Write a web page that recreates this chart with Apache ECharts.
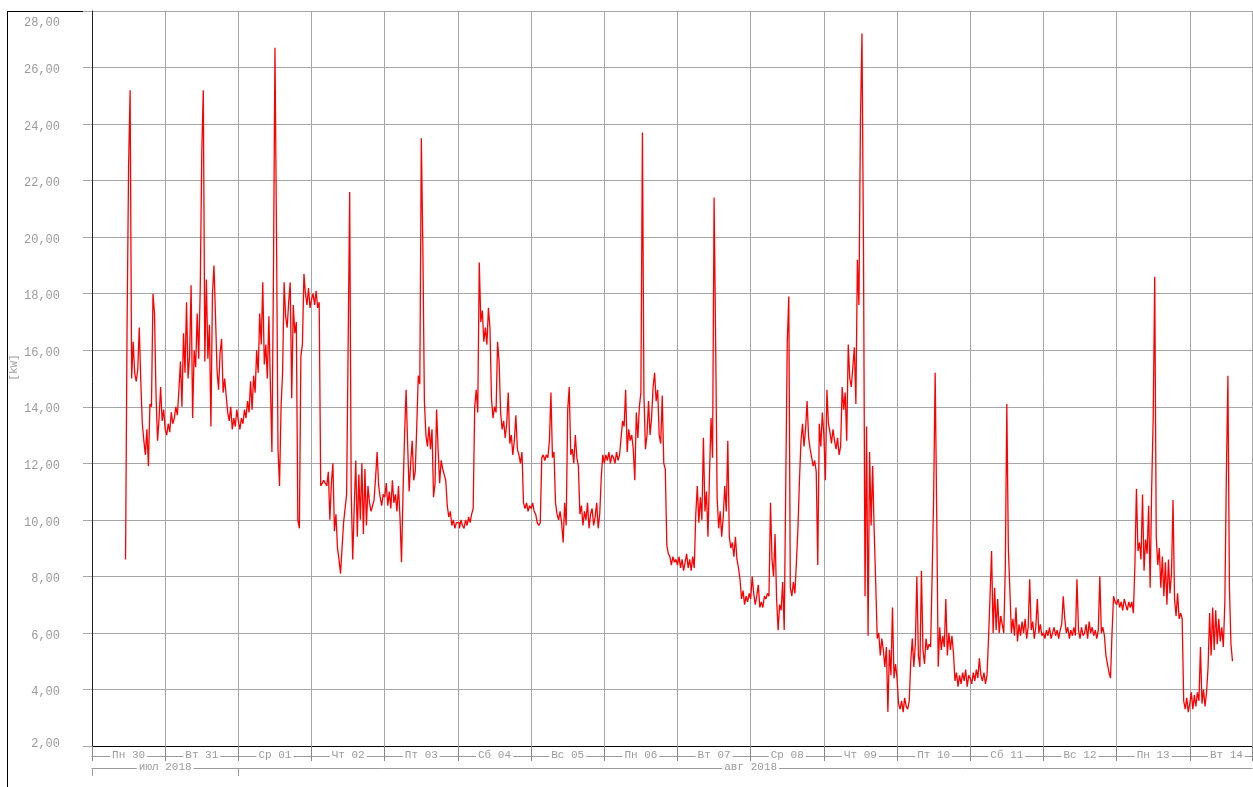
<!DOCTYPE html>
<html>
<head>
<meta charset="utf-8">
<title>Мощность, кВт</title>
<script src="https://cdn.jsdelivr.net/npm/echarts@6/dist/echarts.min.js"></script>
<style>
  html, body { margin: 0; padding: 0; background: #fff; }
  #chart { width: 1253px; height: 787px; }
</style>
</head>
<body>
<div id="chart"></div>
<script>
// half-hour readings, kW; first day starts at 11:00, the rest at 00:00
const jul30 = [8.6, 16.8, 22.5, 25.2, 15.0, 16.3, 15.2, 14.9, 15.3, 16.8, 14.9, 13.4, 12.8, 12.3, 13.2, 11.9,
  14.1, 14.0, 18.0, 17.3, 14.4, 12.8, 13.6, 14.7, 13.5, 13.9];
const jul31 = [13.2, 13.0, 13.4, 13.1, 13.8, 13.4, 13.6, 14.0, 13.7, 14.6, 15.6, 14.0, 16.6, 15.2, 17.7, 15.0,
  15.8, 18.3, 13.6, 16.0, 15.4, 17.3, 15.7, 18.2, 23.0, 25.2, 15.6, 18.5, 15.7, 16.9, 13.3, 18.0,
  19.0, 17.2, 15.3, 14.6, 15.9, 16.4, 14.5, 15.0, 14.4, 13.8, 13.5, 14.0, 13.2, 13.6, 13.3, 13.9];
const aug01 = [13.5, 13.2, 13.6, 13.4, 13.9, 13.6, 14.2, 13.8, 14.9, 13.9, 15.1, 14.5, 16.0, 15.2, 17.3, 16.2,
  18.4, 15.5, 16.2, 15.0, 17.2, 14.8, 12.4, 18.6, 26.7, 20.1, 12.5, 11.2, 14.0, 15.2, 18.4, 17.2,
  16.8, 17.7, 18.4, 14.3, 17.6, 16.6, 17.0, 10.0, 9.7, 15.8, 16.2, 18.7, 18.0, 17.6, 18.2, 17.5];
const aug02 = [17.8, 18.0, 17.6, 18.1, 17.5, 17.7, 11.2, 11.3, 11.4, 11.3, 11.2, 11.7, 10.0, 11.3, 12.0, 9.6,
  10.2, 9.0, 8.6, 8.1, 9.0, 9.9, 10.4, 10.9, 16.2, 21.6, 11.0, 8.6, 10.5, 12.1, 9.4, 11.6,
  10.0, 12.0, 9.5, 11.8, 9.8, 11.2, 10.6, 10.3, 10.5, 10.7, 11.5, 12.4, 11.2, 10.8, 10.5, 10.9];
const aug03 = [10.8, 11.3, 10.5, 11.0, 10.4, 11.4, 10.6, 10.9, 10.3, 11.2, 10.1, 8.5, 11.0, 13.0, 14.6, 12.7,
  11.0, 12.0, 12.8, 11.4, 11.7, 13.3, 15.1, 14.8, 23.5, 19.6, 14.2, 13.0, 12.6, 13.3, 12.5, 13.2,
  10.8, 11.3, 13.9, 12.5, 11.3, 12.1, 11.8, 11.6, 11.4, 10.5, 10.1, 10.3, 9.8, 10.0, 9.7, 9.9];
const aug04 = [9.9, 9.7, 10.0, 9.8, 9.7, 10.0, 9.8, 10.1, 9.9, 10.2, 10.4, 14.0, 14.6, 13.8, 19.1, 17.0,
  17.4, 16.3, 16.8, 16.2, 17.5, 16.8, 14.3, 13.6, 14.0, 13.8, 16.3, 15.6, 13.8, 13.2, 13.5, 12.9,
  13.4, 14.5, 12.7, 13.0, 12.3, 12.8, 13.7, 12.5, 12.3, 12.0, 12.4, 10.6, 10.4, 10.6, 10.3, 10.5];
const aug05 = [10.4, 10.6, 10.3, 10.2, 9.9, 9.8, 9.9, 12.2, 12.3, 12.1, 12.3, 12.2, 12.8, 14.5, 12.2, 12.4,
  10.6, 10.2, 10.0, 10.3, 9.9, 9.2, 10.6, 9.8, 13.9, 14.7, 12.3, 12.5, 12.0, 13.0, 12.2, 11.9,
  10.2, 10.5, 9.8, 10.3, 10.0, 10.6, 9.7, 10.2, 10.4, 9.8, 10.1, 10.6, 9.7, 10.2, 11.5, 12.3];
const aug06 = [12.0, 12.3, 12.1, 12.4, 12.0, 12.3, 12.2, 12.0, 12.4, 12.1, 12.3, 12.9, 13.5, 13.3, 14.6, 12.4,
  13.2, 12.8, 13.0, 12.5, 11.4, 13.8, 12.9, 14.0, 14.5, 23.7, 14.4, 12.5, 13.0, 14.2, 13.0, 13.6,
  14.7, 15.2, 14.2, 14.6, 13.0, 12.7, 14.4, 12.0, 11.8, 9.1, 8.8, 8.7, 8.4, 8.7, 8.5, 8.6];
const aug07 = [8.4, 8.7, 8.3, 8.6, 8.2, 8.5, 8.8, 8.3, 8.6, 8.2, 8.7, 8.3, 10.2, 11.2, 9.9, 10.8,
  10.0, 12.9, 10.3, 11.0, 9.4, 11.6, 13.6, 12.2, 21.4, 16.4, 10.8, 9.7, 10.3, 9.4, 10.1, 11.2,
  10.3, 12.8, 9.4, 9.0, 9.2, 8.7, 9.4, 8.6, 8.3, 7.9, 7.2, 7.5, 7.0, 7.3, 7.1, 7.4];
const aug08 = [7.2, 8.0, 7.4, 7.0, 7.3, 7.7, 6.9, 7.1, 6.9, 7.3, 7.2, 7.4, 7.3, 10.6, 8.6, 8.0,
  9.5, 7.2, 6.1, 7.0, 6.8, 7.8, 6.1, 11.2, 16.3, 17.9, 7.6, 7.3, 7.8, 7.4, 8.5, 9.7,
  11.4, 12.8, 13.4, 12.6, 13.2, 14.2, 12.9, 12.5, 12.2, 11.9, 12.1, 11.7, 8.4, 13.4, 12.6, 13.8];
const aug09 = [13.0, 11.4, 14.6, 13.4, 13.1, 12.7, 13.2, 12.8, 12.5, 12.9, 12.3, 12.6, 14.7, 13.9, 14.5, 12.8,
  16.2, 15.0, 14.7, 15.4, 16.1, 14.1, 19.2, 17.6, 24.1, 27.2, 19.5, 7.3, 13.3, 5.9, 12.4, 9.8,
  11.9, 9.6, 7.8, 5.8, 6.0, 5.2, 5.8, 5.4, 4.8, 5.5, 3.2, 5.4, 4.5, 6.9, 4.4, 4.9];
const aug10 = [4.4, 3.5, 3.3, 3.6, 3.2, 3.7, 3.4, 3.3, 3.6, 5.0, 5.8, 4.8, 5.6, 8.0, 5.2, 4.8,
  8.2, 5.4, 4.9, 5.8, 5.4, 5.6, 5.5, 8.0, 10.8, 15.2, 10.3, 4.8, 6.2, 5.4, 5.9, 5.5,
  7.2, 5.2, 6.0, 5.4, 5.9, 5.3, 4.3, 4.6, 4.1, 4.5, 4.2, 4.6, 4.3, 4.7, 4.1, 4.5];
const aug11 = [4.4, 4.2, 4.6, 4.3, 4.7, 4.4, 5.1, 4.5, 4.3, 4.6, 4.2, 4.5, 5.8, 7.3, 8.9, 6.0,
  7.6, 6.1, 7.2, 6.0, 6.6, 6.3, 6.0, 8.3, 14.1, 9.0, 7.5, 6.0, 6.5, 5.9, 6.9, 5.7,
  6.3, 5.9, 6.4, 6.0, 6.5, 5.8, 6.2, 7.9, 6.1, 6.4, 5.8, 6.2, 7.2, 6.0, 6.3, 5.9];
const aug12 = [6.0, 5.8, 6.1, 5.9, 6.2, 5.8, 6.0, 6.2, 5.9, 6.1, 5.8, 6.1, 6.3, 7.3, 6.5, 6.0,
  6.2, 5.8, 6.1, 5.9, 6.2, 5.9, 7.9, 6.1, 5.8, 6.2, 5.9, 6.0, 6.3, 5.8, 6.4, 6.0,
  6.2, 5.9, 6.1, 5.8, 6.1, 8.0, 6.0, 6.2, 5.9, 5.2, 4.9, 4.6, 4.4, 6.0, 7.3, 7.1];
const aug13 = [7.0, 7.2, 6.9, 7.1, 6.8, 7.2, 7.0, 6.8, 7.1, 6.9, 7.1, 6.7, 8.4, 11.1, 8.9, 9.2,
  8.6, 10.9, 8.2, 9.3, 8.8, 10.5, 7.6, 11.1, 13.6, 18.6, 9.4, 8.4, 9.0, 7.6, 8.7, 7.3,
  8.5, 7.0, 8.6, 7.4, 8.1, 10.7, 7.2, 6.6, 7.4, 6.5, 6.7, 6.5, 3.6, 3.3, 3.7, 3.2];
const aug14 = [3.5, 3.9, 3.3, 3.8, 3.4, 3.9, 3.6, 5.5, 3.5, 4.0, 3.4, 3.9, 4.8, 6.7, 5.2, 6.9,
  5.4, 6.8, 5.6, 6.5, 5.7, 6.2, 5.5, 7.1, 11.6, 15.1, 7.6, 5.6, 5.0];

const days = [jul30, jul31, aug01, aug02, aug03, aug04, aug05, aug06,
  aug07, aug08, aug09, aug10, aug11, aug12, aug13, aug14];
const firstHour = 11;

const dayLabels = ["Пн 30", "Вт 31", "Ср 01", "Чт 02", "Пт 03", "Сб 04", "Вс 05", "Пн 06",
  "Вт 07", "Ср 08", "Чт 09", "Пт 10", "Сб 11", "Вс 12", "Пн 13", "Вт 14"];
const monthLabels = ["июл 2018", "авг 2018"];
const yTicks = { min: 2, max: 28, step: 2 };

// x is hours since 30.07.2018 00:00
const xMax = 380.4;
const series = [];
days.forEach((vals, d) => {
  const start = d * 24 + (d === 0 ? firstHour : 0);
  vals.forEach((v, i) => series.push([start + i * 0.5, v]));
});

const mono = "Liberation Mono";
const grey = "#9a9a9a";

const chart = echarts.init(document.getElementById("chart"));
chart.setOption({
  animation: false,
  backgroundColor: "#fff",
  grid: { left: 92, right: 1, top: 11, bottom: 41, containLabel: false, outerBoundsMode: "none" },
  xAxis: [
    {
      type: "value", position: "bottom", min: 0, max: xMax, interval: 24,
      axisLine: { show: true, onZero: false, lineStyle: { color: "#000" } },
      axisTick: { show: true, length: 15, lineStyle: { color: "#888" } },
      axisLabel: { show: false },
      splitLine: { show: true, lineStyle: { color: "#a6a6a6" } }
    },
    {
      type: "value", position: "bottom", min: 0, max: xMax, offset: 10,
      axisLine: { show: true, onZero: false, lineStyle: { color: grey } },
      axisTick: { show: false },
      splitLine: { show: false },
      axisLabel: {
        customValues: dayLabels.map((_, i) => i * 24 + 12),
        formatter: v => dayLabels[Math.floor(v / 24)],
        margin: -6, color: grey, fontFamily: mono, fontSize: 11,
        backgroundColor: "#fff", padding: [0, 2]
      }
    },
    {
      type: "value", position: "bottom", min: 0, max: xMax, offset: 22,
      axisLine: { show: true, onZero: false, lineStyle: { color: grey } },
      axisTick: { show: true, customValues: [0, 48], length: 8, lineStyle: { color: grey } },
      splitLine: { show: false },
      axisLabel: {
        customValues: [24, 216],
        formatter: v => (v < 48 ? monthLabels[0] : monthLabels[1]),
        margin: -6, color: grey, fontFamily: mono, fontSize: 11,
        backgroundColor: "#fff", padding: [0, 2]
      }
    }
  ],
  yAxis: {
    type: "value", min: yTicks.min, max: yTicks.max, interval: yTicks.step,
    name: "[kW]", nameLocation: "middle", nameGap: 72, nameMoveOverlap: false,
    nameTextStyle: { color: grey, fontFamily: mono, fontSize: 11, padding: [0, 0, 0, 22] },
    axisLine: { show: true, lineStyle: { color: "#222" } },
    axisTick: { show: true, length: 9, lineStyle: { color: "#a6a6a6" } },
    splitLine: { show: true, lineStyle: { color: "#a6a6a6" } },
    axisLabel: {
      margin: 32, color: grey, fontFamily: mono, fontSize: 12,
      formatter: v => {
        const s = v.toFixed(2).replace(".", ",");
        if (v === yTicks.max) return "{top|" + s + "}";
        if (v === yTicks.min) return "{bot|" + s + "}";
        return "{mid|" + s + "}";
      },
      rich: {
        top: { padding: [24, 0, 0, 0], color: grey, fontFamily: mono, fontSize: 12 },
        mid: { padding: [5, 0, 0, 0], color: grey, fontFamily: mono, fontSize: 12 },
        bot: { padding: [0, 0, 4, 0], color: grey, fontFamily: mono, fontSize: 12 }
      }
    }
  },
  // outer frame: top and left edges only
  graphic: [
    { type: "line", shape: { x1: 7, y1: 11.5, x2: 1253, y2: 11.5 }, style: { stroke: "#000", lineWidth: 1 } },
    { type: "line", shape: { x1: 7.5, y1: 11, x2: 7.5, y2: 787 }, style: { stroke: "#000", lineWidth: 1 } }
  ],
  series: [{
    type: "line",
    data: series,
    step: "end",
    showSymbol: false,
    lineStyle: { color: "#ff0000", width: 1.3 },
    itemStyle: { color: "#ff0000" }
  }]
});
</script>
</body>
</html>
